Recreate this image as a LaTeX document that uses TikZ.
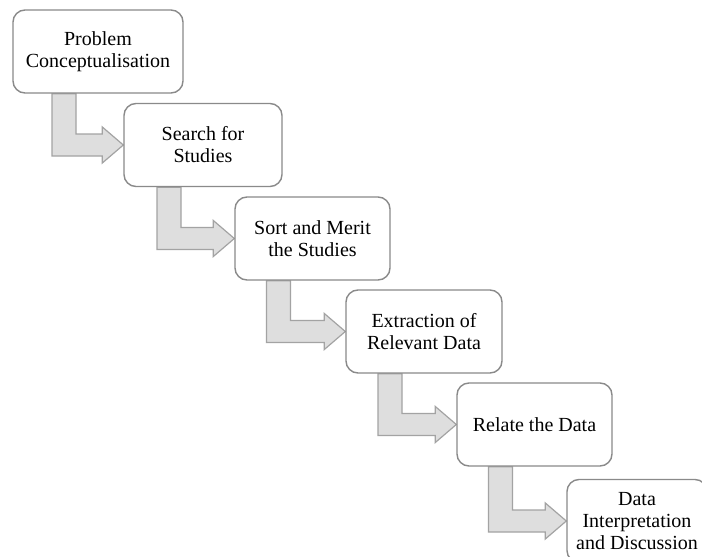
\documentclass[tikz,border=0pt]{standalone}
\usepackage{fontspec}
\setmainfont{Liberation Serif}
\usetikzlibrary{calc}
\pgfdeclarelayer{background}
\pgfsetlayers{background,main}
\definecolor{boxline}{HTML}{8A8A8A}
\definecolor{arrline}{HTML}{A3A3A3}
\definecolor{arrfill}{HTML}{DEDEDE}
\tikzset{
  stepbox/.style={draw=boxline, line width=1.4pt, fill=white, rounded corners=12pt,
    align=center, inner sep=2pt, minimum height=83pt,
    font=\fontsize{20}{22}\selectfont},
  bentarr/.style={draw=arrline, line width=1.2pt, fill=arrfill, line join=miter}
}
\newcommand\bentarrow[2]{%
  \path[bentarr] let \p1=(#1.south), \p2=(#2.west) in
    (\x1-46pt,\y1) -- (\x1-22pt,\y1) -- (\x1-22pt,\y2+11pt) -- (\x2-21pt,\y2+11pt)
    -- (\x2-21pt,\y2+18pt) -- (\x2,\y2) -- (\x2-21pt,\y2-18pt) -- (\x2-21pt,\y2-11pt)
    -- (\x1-46pt,\y2-11pt) -- cycle;}
\begin{document}
\begin{tikzpicture}[x=1pt,y=-1pt]
\clip (0,0) rectangle (702,557);
\path node[stepbox, minimum width=170pt] (b1) at (98,51.5) {Problem\\Conceptualisation}
  node[stepbox, minimum width=158pt] (b2) at (203,145) {Search for\\Studies}
  node[stepbox, minimum width=155pt] (b3) at (312.5,238.5) {Sort and Merit\\the Studies}
  node[stepbox, minimum width=156pt] (b4) at (424,331.5) {Extraction of\\Relevant Data}
  node[stepbox, minimum width=155pt] (b5) at (534.5,424.5) {Relate the Data}
  node[stepbox, minimum width=140pt] (b6) at (637,521) {Data\\Interpretation\\and Discussion};
\begin{pgfonlayer}{background}
\clip (0,0) rectangle (702,557);
\fill[white] (0,0) rectangle (702,557);
\bentarrow{b1}{b2}
\bentarrow{b2}{b3}
\bentarrow{b3}{b4}
\bentarrow{b4}{b5}
\bentarrow{b5}{b6}
\end{pgfonlayer}
\end{tikzpicture}
\end{document}
